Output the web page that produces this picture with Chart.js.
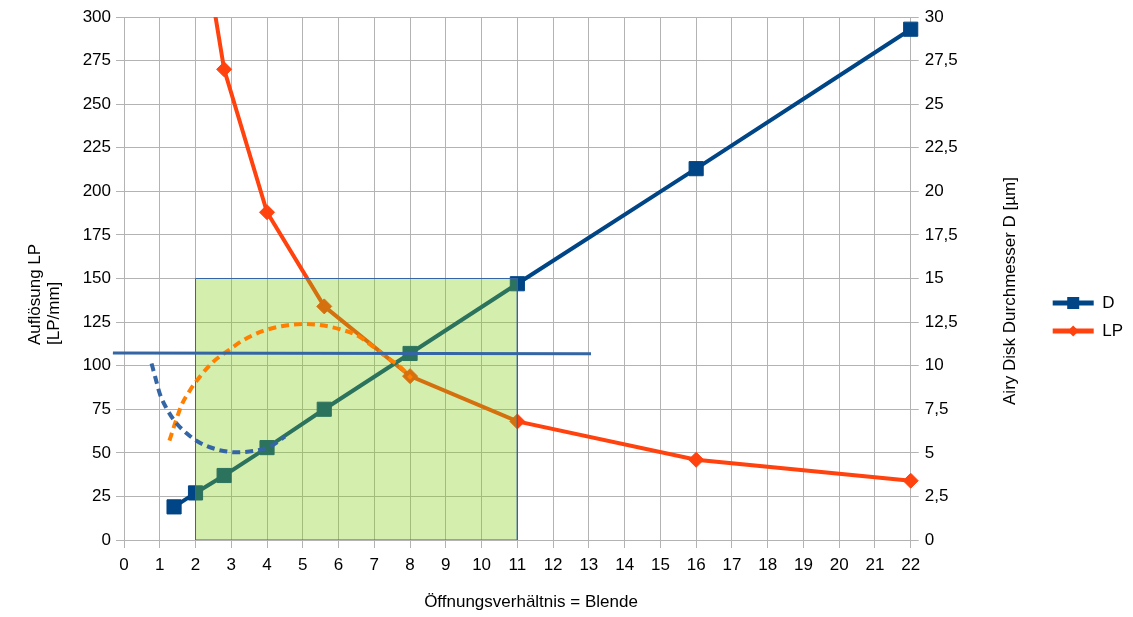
<!DOCTYPE html>
<html>
<head>
<meta charset="utf-8">
<script src="https://cdn.jsdelivr.net/npm/chart.js@4/dist/chart.umd.min.js"></script>
<style>
  html, body { margin: 0; padding: 0; background: #ffffff; }
  #wrap { width: 1133px; height: 617px; }
</style>
</head>
<body>
<div id="wrap"><canvas id="c" width="1133" height="617"></canvas></div>
<script>
// ---- data ----
const fNumbers = [1.4, 2, 2.8, 4, 5.6, 8, 11, 16, 22];          // Öffnungsverhältnis
const dValues  = [1.9, 2.7, 3.7, 5.3, 7.5, 10.7, 14.7, 21.3, 29.3]; // Airy disk D [µm]
const lpValues = [526, 370, 270, 188, 134, 94, 68, 46, 34];       // Auflösung LP [LP/mm]

const rectX = [2, 11];      // highlighted region (x range)
const rectY = [0, 150];     // highlighted region (LP range)

const hLineX = [-0.31, 13.06];
const hLineY = [107.3, 106.8];

const blueDashX = [0.77, 0.87, 1.0, 1.19, 1.43, 1.75, 2.12, 2.59, 3.15, 3.61, 4.08, 4.5];
const blueDashY = [101.3, 93.7, 84, 75.5, 67.9, 61.2, 55.8, 52, 50.3, 51, 53.5, 59.3];

const orangeDashX = [1.27, 1.43, 1.61, 1.85, 2.12, 2.5, 2.87, 3.34, 3.89, 4.45, 5.01, 5.48, 6.04, 6.5, 6.97, 7.34, 7.72, 8.04];
const orangeDashY = [57, 67, 77.4, 86, 93.7, 102.3, 108, 114.7, 119.9, 122.8, 123.9, 123.3, 120.9, 117.6, 110.9, 105, 99.4, 92.7];

const xTickLabels = ['0','1','2','3','4','5','6','7','8','9','10','11','12','13','14','15','16','17','18','19','20','21','22'];
const leftTickLabels = ['0','25','50','75','100','125','150','175','200','225','250','275','300'];
const rightTickLabels = ['0','2,5','5','7,5','10','12,5','15','17,5','20','22,5','25','27,5','30'];

const xTitle = 'Öffnungsverhältnis = Blende';
const leftTitle = ['Auflösung LP', '[LP/mm]'];
const rightTitle = 'Airy Disk Durchmesser D [µm]';

// ---- helpers ----
const pts = (xs, ys) => xs.map((x, i) => ({ x: x, y: ys[i] }));
const FONT = '"Liberation Sans", Arial, sans-serif';
const GRID = '#b3b3b3';

const titlesPlugin = {
  id: 'titles',
  afterDraw(chart) {
    const ctx = chart.ctx;
    ctx.save();
    ctx.fillStyle = '#000';
    ctx.font = '17px ' + FONT;
    // x title
    ctx.textAlign = 'center';
    ctx.textBaseline = 'middle';
    ctx.fillText(xTitle, 531, 602);
    // left title (two lines, start-aligned, reading upward)
    ctx.save();
    ctx.translate(35, 345);
    ctx.rotate(-Math.PI / 2);
    ctx.textAlign = 'left';
    ctx.fillText(leftTitle[0], 0, 0);
    ctx.fillText(leftTitle[1], 0, 19);
    ctx.restore();
    // right title
    ctx.save();
    ctx.translate(1010, 291);
    ctx.rotate(-Math.PI / 2);
    ctx.textAlign = 'center';
    ctx.fillText(rightTitle, 0, 0);
    ctx.restore();
    // legend markers
    const lg = chart.legend;
    if (lg && lg.legendHitBoxes) {
      lg.legendItems.forEach((item, i) => {
        const hb = lg.legendHitBoxes[i];
        const bw = lg.options.labels.boxWidth;
        const cx = hb.left + bw / 2;
        const cy = hb.top + hb.height / 2;
        const ds = chart.data.datasets[item.datasetIndex];
        ctx.fillStyle = ds.borderColor;
        ctx.beginPath();
        if (ds.pointStyle === 'rect') {
          ctx.rect(cx - 6, cy - 6, 12, 12);
        } else {
          ctx.moveTo(cx, cy - 5.5);
          ctx.lineTo(cx + 5.5, cy);
          ctx.lineTo(cx, cy + 5.5);
          ctx.lineTo(cx - 5.5, cy);
          ctx.closePath();
        }
        ctx.fill();
      });
    }
    ctx.restore();
  }
};

const rectPoly = pts([rectX[0], rectX[0], rectX[1], rectX[1], rectX[0]], [rectY[0], rectY[1], rectY[1], rectY[0], rectY[0]]);

new Chart(document.getElementById('c'), {
  type: 'line',
  data: {
    datasets: [
      {
        label: 'D',
        data: pts(fNumbers, dValues),
        yAxisID: 'y1',
        borderColor: '#004586',
        backgroundColor: '#004586',
        borderWidth: 4,
        pointStyle: 'rect',
        pointRadius: 10,
        pointBorderWidth: 1,
        pointBackgroundColor: '#004586',
        pointBorderColor: '#004586',
        tension: 0,
        order: 4,
        clip: 14
      },
      {
        label: 'LP',
        data: pts(fNumbers, lpValues),
        yAxisID: 'y',
        borderColor: '#ff420e',
        backgroundColor: '#ff420e',
        borderWidth: 4,
        pointStyle: 'rectRot',
        pointRadius: 7.5,
        pointBorderWidth: 1,
        pointBackgroundColor: '#ff420e',
        pointBorderColor: '#ff420e',
        tension: 0,
        order: 5,
        clip: { left: 12, right: 12, top: 0, bottom: 12 }
      },
      {
        label: 'rectFill',
        data: pts(rectX, [rectY[1], rectY[1]]),
        yAxisID: 'y',
        borderWidth: 0,
        borderColor: 'rgba(0,0,0,0)',
        backgroundColor: 'rgba(129,205,15,0.34)',
        fill: 'origin',
        pointRadius: 0,
        order: 3
      },
      {
        label: 'rectBorder',
        data: rectPoly,
        yAxisID: 'y',
        borderColor: '#3465a4',
        borderWidth: 1,
        pointRadius: 0,
        fill: false,
        order: 2
      },
      {
        label: 'blueDash',
        data: pts(blueDashX, blueDashY),
        yAxisID: 'y',
        borderColor: '#3465a4',
        borderWidth: 4,
        borderDash: [8, 5],
        pointRadius: 0,
        cubicInterpolationMode: 'monotone',
        fill: false,
        order: 1
      },
      {
        label: 'orangeDash',
        data: pts(orangeDashX, orangeDashY),
        yAxisID: 'y',
        borderColor: '#ff8000',
        borderWidth: 4,
        borderDash: [8, 5],
        pointRadius: 0,
        cubicInterpolationMode: 'monotone',
        fill: false,
        order: 1
      },
      {
        label: 'hLine',
        data: pts(hLineX, hLineY),
        yAxisID: 'y',
        borderColor: '#3465a4',
        borderWidth: 3,
        pointRadius: 0,
        fill: false,
        clip: false,
        order: 0
      }
    ]
  },
  options: {
    responsive: false,
    animation: false,
    devicePixelRatio: 1,
    events: [],
    layout: { padding: { top: 17, right: 0, bottom: 0, left: 0 } },
    plugins: {
      tooltip: { enabled: false },
      legend: {
        display: true,
        position: 'right',
        align: 'center',
        labels: {
          font: { family: FONT, size: 17 },
          color: '#000',
          boxWidth: 41,
          boxHeight: 5,
          padding: 11,
          filter: (item) => item.text === 'D' || item.text === 'LP',
          generateLabels: (chart) => {
            const items = Chart.defaults.plugins.legend.labels.generateLabels(chart);
            return items.map(it => Object.assign(it, { lineWidth: 0, lineDash: [] }));
          }
        }
      }
    },
    scales: {
      x: {
        type: 'linear',
        min: 0,
        max: 22,
        ticks: {
          stepSize: 1,
          autoSkip: false,
          maxRotation: 0,
          padding: 7,
          color: '#000',
          font: { family: FONT, size: 17 },
          callback: (v, i) => xTickLabels[i]
        },
        grid: { color: GRID, lineWidth: 1, tickLength: 8, drawTicks: true },
        border: { display: true, color: GRID },
        afterFit: (s) => { s.height = 77; }
      },
      y: {
        type: 'linear',
        position: 'left',
        min: 0,
        max: 300,
        ticks: {
          stepSize: 25,
          padding: 5,
          color: '#000',
          font: { family: FONT, size: 17 },
          callback: (v, i) => leftTickLabels[i]
        },
        grid: { color: GRID, lineWidth: 1, tickLength: 8, drawTicks: true },
        border: { display: true, color: GRID },
        afterFit: (s) => { s.width = 124; }
      },
      y1: {
        type: 'linear',
        position: 'right',
        min: 0,
        max: 30,
        ticks: {
          stepSize: 2.5,
          padding: 6,
          color: '#000',
          font: { family: FONT, size: 17 },
          callback: (v, i) => rightTickLabels[i]
        },
        grid: { color: GRID, lineWidth: 1, tickLength: 8, drawTicks: true, drawOnChartArea: false },
        border: { display: true, color: GRID },
        afterFit: (s) => { s.width = 131; }
      }
    }
  },
  plugins: [titlesPlugin]
});
</script>
</body>
</html>
